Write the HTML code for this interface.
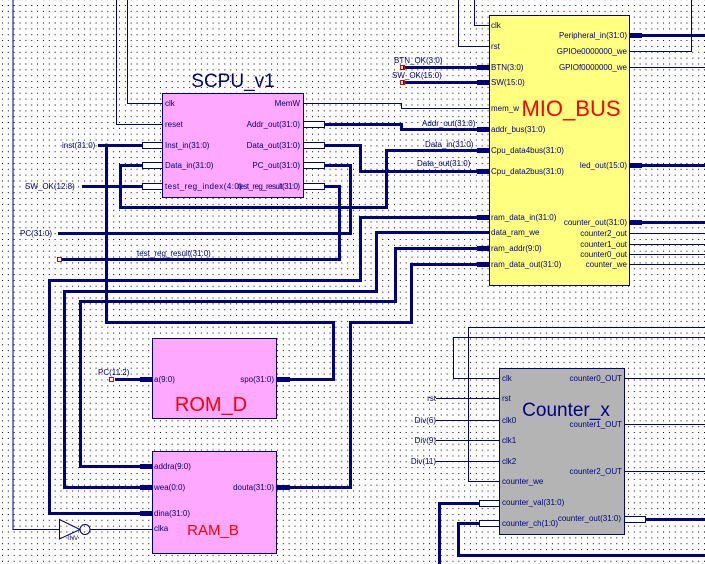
<!DOCTYPE html>
<html><head><meta charset="utf-8"><style>
html,body{margin:0;padding:0;background:#fff;}
svg{display:block;}
text{font-family:"Liberation Sans",sans-serif;fill:#000080;}
.p{font-size:8px;}
</style></head><body>
<svg width="705" height="564" viewBox="0 0 705 564" xmlns="http://www.w3.org/2000/svg">
<defs>
<pattern id="g" x="2" y="5" width="5.85" height="5.85" patternUnits="userSpaceOnUse">
<rect x="0" y="0" width="1" height="1" fill="#000"/>
</pattern>
</defs>
<rect width="705" height="564" fill="#fff"/>
<rect width="705" height="564" fill="url(#g)"/>

<!-- boxes -->
<rect x="162.5" y="93.5" width="141" height="104" fill="#ffa8ff" stroke="#000080"/>
<rect x="489.5" y="15.5" width="140" height="270" fill="#ffff80" stroke="#000080"/>
<rect x="152.5" y="338.5" width="124" height="80" fill="#ffa8ff" stroke="#000080"/>
<rect x="152.5" y="451.5" width="124" height="102" fill="#ffa8ff" stroke="#000080"/>
<rect x="499.5" y="368.5" width="125" height="166" fill="#b4b4b4" stroke="#000080"/>

<g fill="none" stroke="#000080" stroke-width="1">
<!-- left long vertical + inverter -->
<path d="M13 0V529.5H59"/>
<path d="M59.5 519.5L80 529.5L59.5 539Z"/>
<circle cx="85" cy="529.5" r="5"/>
<path d="M90 529.5H152"/>
<!-- SCPU clk/reset -->
<path d="M127.5 0V103.5H162"/>
<path d="M116.5 0V124.5H162"/>
<!-- MemW -->
<path d="M303 103.5H401.5V108.5H489"/>
<!-- MIO clk/rst -->
<path d="M474.5 0V25.5H489"/>
<path d="M458.5 0V46.5H489"/>
<!-- MIO right thin -->
<path d="M629 51.5H691.5V0"/>
<path d="M629 67.5H705"/>
<path d="M629 233.5H705M629 244.5H705M629 254.5H705M629 264.5H705"/>
<!-- Counter thin -->
<path d="M499 378.5H453.5V337.5H705"/>
<path d="M499 481.5H468.5V327.5H705"/>
<path d="M436 398.5H499M436 420.5H499M436 440.5H499M436 461.5H499"/>
<path d="M624 378.5H705M624 424.5H705M624 471.5H705"/>
</g>

<g fill="none" stroke="#000080" stroke-width="3">
<path d="M321 124.5H401.5V129.5H489"/>
<path d="M321 145.5H360.5V171.5H489"/>
<path d="M489 150.5H386.5V207.5H120.5V165.5H143"/>
<path d="M321 165.5H350.5V233.5H58"/>
<path d="M321 186.5H339.5V259.5H62"/>
<path d="M98 145.5H143"/>
<path d="M82 186.5H143"/>
<path d="M106.5 145.5V322.5H333.5V379.5H290"/>
<path d="M489 217.5H360.5V280.5H49.5V513.5H152"/>
<path d="M489 232.5H376.5V291.5H64.5V487.5H152"/>
<path d="M489 248.5H395.5V301.5H80.5V466.5H152"/>
<path d="M489 264.5H411.5V322.5H350.5V487.5H290"/>
<path d="M403 67.5H489M403 82.5H489"/>
<path d="M629 35.5H705M629 165.5H705M629 222.5H705"/>
<path d="M645 519.5H705"/>
<path d="M479 503.5H439.5V564"/>
<path d="M479 523.5H458.5V555.5H705"/>
<path d="M115 379.5H152"/>
</g>

<!-- filled bus stubs -->
<g fill="#000080">
<rect x="477" y="65" width="12" height="5"/><rect x="477" y="80" width="12" height="5"/>
<rect x="477" y="127" width="12" height="5"/><rect x="477" y="148" width="12" height="5"/>
<rect x="477" y="169" width="12" height="5"/><rect x="477" y="215" width="12" height="5"/>
<rect x="477" y="246" width="12" height="5"/><rect x="477" y="262" width="12" height="5"/>
<rect x="629" y="33" width="13" height="5"/><rect x="629" y="163" width="13" height="5"/>
<rect x="629" y="220" width="13" height="5"/>
<rect x="140" y="377" width="12" height="5"/><rect x="276" y="377" width="14" height="5"/>
<rect x="140" y="464" width="12" height="5"/><rect x="140" y="485" width="12" height="5"/>
<rect x="140" y="511" width="12" height="5"/><rect x="276" y="485" width="14" height="5"/>
<circle cx="106.5" cy="145.5" r="2"/>
</g>
<!-- hollow stubs -->
<g fill="#fff" stroke="#000080" stroke-width="1">
<rect x="142.5" y="142.5" width="20" height="6"/><rect x="142.5" y="162.5" width="20" height="6"/>
<rect x="142.5" y="183.5" width="20" height="6"/>
<rect x="303.5" y="121.5" width="21" height="6"/><rect x="303.5" y="142.5" width="21" height="6"/>
<rect x="303.5" y="162.5" width="21" height="6"/><rect x="303.5" y="183.5" width="21" height="6"/>
<rect x="479.5" y="500.5" width="20" height="6"/><rect x="479.5" y="520.5" width="20" height="6"/>
<rect x="624.5" y="516.5" width="21" height="6"/>
</g>
<!-- red markers -->
<g fill="none" stroke="#e00000" stroke-width="1">
<rect x="57.5" y="257.5" width="4" height="4"/>
<rect x="400.5" y="65.5" width="4" height="4"/>
<rect x="400.5" y="80.5" width="4" height="4"/>
<rect x="109.5" y="377.5" width="4" height="4"/>
</g>

<!-- titles -->
<text x="233" y="87" font-size="19" text-anchor="middle">SCPU_v1</text>
<text x="571" y="116" font-size="22" text-anchor="middle" style="fill:#ff0000">MIO_BUS</text>
<text x="211" y="411" font-size="20" text-anchor="middle" style="fill:#ff0000">ROM_D</text>
<text x="213" y="535" font-size="15" text-anchor="middle" style="fill:#ff0000">RAM_B</text>
<text x="566" y="416" font-size="19" text-anchor="middle">Counter_x</text>

<!-- SCPU pins -->
<g class="p">
<text x="165" y="106">clk</text><text x="165" y="127">reset</text>
<text x="165" y="148">Inst_in(31:0)</text><text x="165" y="168">Data_in(31:0)</text>
<text x="165" y="189" textLength="77">test_reg_index(4:0)</text>
<text x="300" y="106" text-anchor="end">MemW</text>
<text x="300" y="127" text-anchor="end">Addr_out(31:0)</text>
<text x="300" y="148" text-anchor="end">Data_out(31:0)</text>
<text x="300" y="168" text-anchor="end">PC_out(31:0)</text>
<text x="300" y="189" text-anchor="end" textLength="62">test_reg_result(31:0)</text>
<text x="62" y="148">inst(31:0)</text>
<text x="25" y="189">SW_OK(12:8)</text>
<text x="20" y="236">PC(31:0)</text>
<text x="137" y="256">test_reg_result(31:0)</text>

<!-- MIO pins -->
<text x="491" y="28">clk</text><text x="491" y="49">rst</text>
<text x="491" y="70">BTN(3:0)</text><text x="491" y="85">SW(15:0)</text>
<text x="491" y="111">mem_w</text><text x="491" y="132">addr_bus(31:0)</text>
<text x="491" y="153">Cpu_data4bus(31:0)</text><text x="491" y="174">Cpu_data2bus(31:0)</text>
<text x="491" y="220">ram_data_in(31:0)</text><text x="491" y="235">data_ram_we</text>
<text x="491" y="251">ram_addr(9:0)</text><text x="491" y="267">ram_data_out(31:0)</text>
<text x="627" y="38" text-anchor="end">Peripheral_in(31:0)</text>
<text x="627" y="54" text-anchor="end">GPIOe0000000_we</text>
<text x="627" y="70" text-anchor="end">GPIOf0000000_we</text>
<text x="627" y="168" text-anchor="end">led_out(15:0)</text>
<text x="627" y="225" text-anchor="end">counter_out(31:0)</text>
<text x="627" y="236" text-anchor="end">counter2_out</text>
<text x="627" y="247" text-anchor="end">counter1_out</text>
<text x="627" y="257" text-anchor="end">counter0_out</text>
<text x="627" y="267" text-anchor="end">counter_we</text>
<text x="394" y="63">BTN_OK(3:0)</text>
<text x="392" y="78">SW_OK(15:0)</text>
<text x="422" y="126">Addr_out(31:0)</text>
<text x="425" y="147">Data_in(31:0)</text>
<text x="417" y="166">Data_out(31:0)</text>

<!-- ROM/RAM pins -->
<text x="154" y="382">a(9:0)</text><text x="274" y="382" text-anchor="end">spo(31:0)</text>
<text x="98" y="375">PC(11:2)</text>
<text x="154" y="469">addra(9:0)</text><text x="154" y="490">wea(0:0)</text>
<text x="154" y="516">dina(31:0)</text><text x="154" y="531">clka</text>
<text x="274" y="490" text-anchor="end">douta(31:0)</text>
<text x="68" y="540" font-size="6">INV</text>

<!-- Counter pins -->
<text x="502" y="381">clk</text><text x="502" y="401">rst</text>
<text x="502" y="423">clk0</text><text x="502" y="443">clk1</text>
<text x="502" y="464">clk2</text><text x="502" y="484">counter_we</text>
<text x="502" y="505">counter_val(31:0)</text><text x="502" y="526">counter_ch(1:0)</text>
<text x="622" y="381" text-anchor="end">counter0_OUT</text>
<text x="622" y="427" text-anchor="end">counter1_OUT</text>
<text x="622" y="474" text-anchor="end">counter2_OUT</text>
<text x="621" y="521" text-anchor="end">counter_out(31:0)</text>
<text x="436" y="401" text-anchor="end">rst</text>
<text x="436" y="423" text-anchor="end">Div(6)</text>
<text x="436" y="443" text-anchor="end">Div(9)</text>
<text x="436" y="464" text-anchor="end">Div(11)</text>
</g>
</svg>
</body></html>
